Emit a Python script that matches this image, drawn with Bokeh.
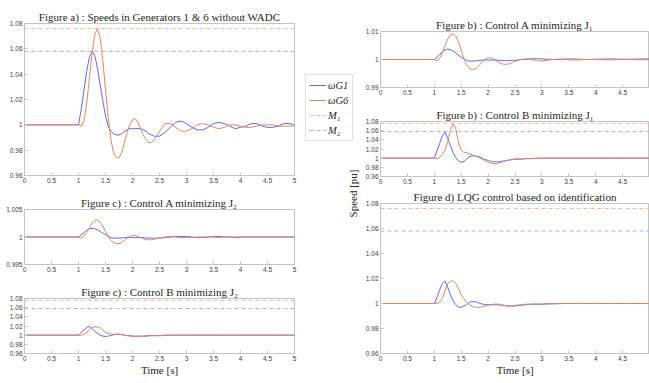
from bokeh.plotting import figure
from bokeh.layouts import row, column
from bokeh.models import (Range1d, FixedTicker, CustomJSTickFormatter, Legend,
                          LegendItem, Label)
from bokeh.embed import file_html
from bokeh.resources import INLINE

# ---------------- data ----------------
t = [0.0, 1.0, 1.05, 1.1, 1.15, 1.2, 1.25, 1.3, 1.35, 1.4, 1.45, 1.5, 1.55, 1.6,
     1.65, 1.7, 1.75, 1.8, 1.85, 1.9, 1.95, 2.0, 2.05, 2.1, 2.15, 2.2, 2.25, 2.3,
     2.35, 2.4, 2.45, 2.5, 2.6, 2.7, 2.8, 2.9, 3.0, 3.1, 3.2, 3.3, 3.4, 3.5, 3.6,
     3.7, 3.8, 3.9, 4.0, 4.1, 4.2, 4.3, 4.4, 4.5, 4.6, 4.7, 4.8, 4.9, 5.0]

M1 = 1.076
M2 = 1.058

# Figure a) : without WADC
a_g1 = [1.000, 1.000, 1.012, 1.027, 1.042, 1.053, 1.058, 1.055, 1.045, 1.032, 1.019,
        1.007, 0.999, 0.995, 0.993, 0.992, 0.992, 0.993, 0.995, 0.996, 0.997, 0.997,
        0.997, 0.997, 0.997, 0.996, 0.995, 0.993, 0.992, 0.991, 0.991, 0.991, 0.994,
        0.998, 1.002, 1.003, 1.001, 0.998, 0.996, 0.996, 0.998, 1.001, 1.002, 1.001,
        0.999, 0.997, 0.998, 0.999, 1.001, 1.001, 0.999, 0.998, 0.998, 0.999, 1.001,
        1.001, 1.000]
a_g6 = [1.000, 1.000, 0.999, 1.003, 1.016, 1.036, 1.056, 1.071, 1.076, 1.069, 1.051,
        1.028, 1.006, 0.988, 0.978, 0.974, 0.974, 0.978, 0.986, 0.994, 1.000, 1.004,
        1.005, 1.002, 0.997, 0.992, 0.988, 0.986, 0.986, 0.988, 0.991, 0.995, 1.001,
        1.001, 0.998, 0.995, 0.995, 0.997, 1.000, 1.001, 1.000, 0.998, 0.997, 0.998,
        1.000, 1.000, 0.999, 0.998, 0.998, 0.999, 1.000, 1.000, 1.000, 0.999, 0.999,
        0.999, 0.999]

# Figure b) : Control A minimizing J1
b1_g1 = [1.0, 1.0, 1.0008, 1.0018, 1.0027, 1.0034, 1.0037, 1.0035, 1.003, 1.0023,
         1.0015, 1.0008, 1.0002, 0.9997, 0.9994, 0.9994, 0.9995, 0.9996, 0.9997,
         0.9998, 0.9998, 0.9998, 0.9998, 0.9998, 0.9998, 0.9997, 0.9997, 0.9996,
         0.9996, 0.9996, 0.9997, 0.9997, 0.9999, 1.0001, 1.0002, 1.0003, 1.0002,
         1.0001, 1.0, 1.0, 1.0001, 1.0002, 1.0002, 1.0001, 1.0, 1.0, 1.0001, 1.0001,
         1.0002, 1.0002, 1.0001, 1.0001, 1.0001, 1.0001, 1.0002, 1.0002, 1.0002]
b1_g6 = [1.0, 1.0, 0.9995, 1.0005, 1.0025, 1.005, 1.0073, 1.0088, 1.0092, 1.0083,
         1.0062, 1.0033, 1.0004, 0.9981, 0.9968, 0.9965, 0.9966, 0.9972, 0.9982,
         0.9993, 1.0002, 1.0006, 1.0006, 1.0002, 0.9996, 0.999, 0.9985, 0.9983,
         0.9983, 0.9985, 0.9989, 0.9993, 1.0, 1.0002, 1.0, 0.9996, 0.9995, 0.9997,
         1.0, 1.0001, 1.0001, 0.9999, 0.9998, 0.9999, 1.0, 1.0, 1.0, 0.9999, 0.9999,
         0.9999, 1.0, 1.0, 1.0, 0.9999, 0.9999, 0.9999, 0.9999]

# Figure b) : Control B minimizing J1
b2_g1 = [1.0, 1.0, 1.016, 1.032, 1.049, 1.057, 1.043, 1.027, 1.012, 1.001, 0.994,
         0.991, 0.993, 0.998, 1.003, 1.005, 1.005, 1.004, 1.002, 0.999, 0.997, 0.995,
         0.993, 0.992, 0.992, 0.992, 0.993, 0.994, 0.995, 0.996, 0.997, 0.998, 0.998,
         0.999, 0.999, 1.0, 1.0, 1.0, 1.0, 1.0, 1.0, 1.0, 1.0, 1.0, 1.0, 1.0, 1.0,
         1.0, 1.0, 1.0, 1.0, 1.0, 1.0, 1.0, 1.0, 1.0, 1.0]
b2_g6 = [1.0, 1.0, 0.999, 1.002, 1.008, 1.018, 1.036, 1.062, 1.076, 1.064, 1.034,
         1.017, 1.013, 1.012, 1.010, 1.007, 1.005, 1.003, 1.000, 0.997, 0.994, 0.991,
         0.989, 0.988, 0.988, 0.989, 0.991, 0.993, 0.995, 0.996, 0.997, 0.998, 0.998,
         0.999, 0.999, 0.999, 1.0, 1.0, 1.0, 1.0, 1.0, 1.0, 1.0, 1.0, 1.0, 1.0, 1.0,
         1.0, 1.0, 1.0, 1.0, 1.0, 1.0, 1.0, 1.0, 1.0, 1.0]

# Figure c) : Control A minimizing J2
c1_g1 = [1.0, 1.0, 1.0004, 1.0008, 1.0012, 1.0015, 1.0016, 1.0015, 1.0013, 1.001,
         1.0007, 1.0004, 1.0001, 0.9999, 0.9998, 0.9998, 0.9998, 0.9998, 0.9999,
         0.9999, 0.9999, 0.9999, 0.9999, 0.9999, 0.9999, 0.9999, 0.9998, 0.9998,
         0.9998, 0.9998, 0.9998, 0.9998, 0.9999, 1.0, 1.0001, 1.0001, 1.0001, 1.0,
         0.9999, 0.9999, 1.0, 1.0001, 1.0001, 1.0, 1.0, 0.9999, 1.0, 1.0, 1.0, 1.0,
         1.0, 1.0, 1.0, 1.0, 1.0, 1.0, 1.0]
c1_g6 = [1.0, 1.0, 0.9998, 1.0001, 1.0008, 1.0016, 1.0025, 1.003, 1.0031, 1.0027,
         1.002, 1.001, 1.0001, 0.9994, 0.999, 0.9988, 0.9988, 0.999, 0.9994, 0.9998,
         1.0001, 1.0003, 1.0003, 1.0001, 0.9999, 0.9997, 0.9995, 0.9995, 0.9995,
         0.9996, 0.9997, 0.9998, 1.0, 1.0001, 1.0, 0.9999, 0.9999, 0.9999, 1.0, 1.0,
         1.0, 1.0, 0.9999, 1.0, 1.0, 1.0, 1.0, 1.0, 1.0, 1.0, 1.0, 1.0, 1.0, 1.0,
         1.0, 1.0, 1.0]

# Figure c) : Control B minimizing J2
c2_g1 = [1.0, 1.0, 1.006, 1.011, 1.017, 1.019, 1.014, 1.009, 1.004, 1.0, 0.998,
         0.997, 0.998, 0.999, 1.001, 1.002, 1.002, 1.001, 1.0, 0.999, 0.999, 0.998,
         0.998, 0.998, 0.998, 0.998, 0.998, 0.999, 0.999, 0.999, 0.999, 0.999, 1.0,
         1.0, 1.0, 1.0, 1.0, 1.0, 1.0, 1.0, 1.0, 1.0, 1.0, 1.0, 1.0, 1.0, 1.0, 1.0,
         1.0, 1.0, 1.0, 1.0, 1.0, 1.0, 1.0, 1.0, 1.0]
c2_g6 = [1.0, 1.0, 1.0, 1.002, 1.006, 1.011, 1.016, 1.018, 1.018, 1.016, 1.011,
         1.006, 1.004, 1.003, 1.002, 1.002, 1.002, 1.001, 1.0, 0.999, 0.998, 0.998,
         0.997, 0.997, 0.997, 0.998, 0.998, 0.998, 0.999, 0.999, 0.999, 0.999, 0.999,
         1.0, 1.0, 1.0, 1.0, 1.0, 1.0, 1.0, 1.0, 1.0, 1.0, 1.0, 1.0, 1.0, 1.0, 1.0,
         1.0, 1.0, 1.0, 1.0, 1.0, 1.0, 1.0, 1.0, 1.0]

# Figure d) LQG control based on identification
d_g1 = [1.0, 1.0, 1.005, 1.011, 1.016, 1.018, 1.013, 1.007, 1.002, 0.999, 0.997,
        0.997, 0.998, 0.999, 1.001, 1.0015, 1.0015, 1.001, 1.0, 0.9995, 0.999, 0.999,
        0.999, 0.999, 0.999, 0.999, 0.9985, 0.9985, 0.998, 0.998, 0.998, 0.998,
        0.9985, 0.999, 0.9995, 0.9995, 0.9995, 0.9997, 0.9998, 0.9999, 1.0, 1.0,
        1.0, 1.0, 1.0, 1.0, 1.0, 1.0, 1.0, 1.0, 1.0, 1.0, 1.0, 1.0, 1.0, 1.0, 1.0]
d_g6 = [1.0, 1.0, 1.0, 1.001, 1.004, 1.01, 1.016, 1.018, 1.018, 1.016, 1.012, 1.007,
        1.004, 1.001, 0.999, 0.998, 0.997, 0.997, 0.997, 0.9975, 0.998, 0.9985,
        0.999, 0.9995, 0.9995, 0.9995, 0.999, 0.9985, 0.998, 0.998, 0.998, 0.9985,
        0.999, 0.9995, 0.9995, 0.9995, 0.9995, 0.9997, 0.9998, 0.9999, 1.0, 1.0,
        1.0, 1.0, 1.0, 1.0, 1.0, 1.0, 1.0, 1.0, 1.0, 1.0, 1.0, 1.0, 1.0, 1.0, 1.0]

legend_labels = ["ωG1", "ωG6", "M₁", "M₂"]
x_ticks_left = [0, 0.5, 1, 1.5, 2, 2.5, 3, 3.5, 4, 4.5, 5]
x_ticks_right = [0, 0.5, 1, 1.5, 2, 2.5, 3, 3.5, 4, 4.5]
y_ticks_wide = [0.96, 0.98, 1.0, 1.02, 1.04, 1.06, 1.08]
y_ticks_b = [0.99, 1.0, 1.01]
y_ticks_c = [0.995, 1.0, 1.005]

# ---------------- style ----------------
BLUE = "#5070f4"
ORANGE = "#e8845e"
BLUE_D = "#a3b3f6"
ORANGE_D = "#f3b8a0"
FRAME = "#c4c4c4"
TEXT = "#262626"
SERIF = "Liberation Serif"
SANS = "Liberation Sans"

fmt_code = "return String(Number(tick.toFixed(4)));"


def panel(title, width, height, mbl, mbr, mbt, mbb, yr, yticks, xticks,
          xlabel=None):
    p = figure(width=width, height=height, output_backend="svg",
               toolbar_location=None, x_range=Range1d(0, 5),
               y_range=Range1d(yr[0], yr[1]),
               min_border_left=mbl, min_border_right=mbr,
               min_border_top=mbt, min_border_bottom=mbb)
    p.title.text = title
    p.title.align = "center"
    p.title.text_font = SERIF
    p.title.text_font_size = "11px"
    p.title.text_font_style = "normal"
    p.title.text_color = TEXT
    p.title.standoff = 1
    p.grid.visible = False
    p.outline_line_color = FRAME
    p.background_fill_color = "white"
    for ax in (p.xaxis[0], p.yaxis[0]):
        ax.axis_line_color = FRAME
        ax.major_tick_line_color = FRAME
        ax.major_tick_in = 3
        ax.major_tick_out = 0
        ax.minor_tick_line_color = None
        ax.major_label_text_font = SANS
        ax.major_label_text_font_size = "6.5px"
        ax.major_label_text_color = "#404040"
        ax.major_label_standoff = 2
        ax.formatter = CustomJSTickFormatter(code=fmt_code)
    p.xaxis[0].ticker = FixedTicker(ticks=xticks)
    p.yaxis[0].ticker = FixedTicker(ticks=yticks)
    if xlabel:
        p.xaxis[0].axis_label = xlabel
        p.xaxis[0].axis_label_text_font = SERIF
        p.xaxis[0].axis_label_text_font_style = "normal"
        p.xaxis[0].axis_label_text_font_size = "11px"
        p.xaxis[0].axis_label_text_color = TEXT
        p.xaxis[0].axis_label_standoff = 0
    return p


def curves(p, g1, g6, limits):
    r1 = p.line(t, g1, line_color=BLUE, line_width=1)
    r6 = p.line(t, g6, line_color=ORANGE, line_width=1)
    rm1 = rm2 = None
    if limits:
        rm1 = p.line([t[0], t[-1]], [M1, M1], line_color=ORANGE_D,
                     line_width=1, line_dash="4 3")
        rm2 = p.line([t[0], t[-1]], [M2, M2], line_color=BLUE_D,
                     line_width=1, line_dash="4 3")
    return r1, r6, rm1, rm2


# ---------------- left column ----------------
pa = panel("Figure a) : Speeds in Generators 1 & 6 without WADC", 300, 190,
           24, 6, 23, 15, (0.96, 1.08), y_ticks_wide, x_ticks_left)
curves(pa, a_g1, a_g6, True)

pc1 = panel("Figure c) : Control A minimizing J₂", 300, 91,
            24, 6, 19, 17, (0.995, 1.005), y_ticks_c, x_ticks_left)
curves(pc1, c1_g1, c1_g6, False)

pc2 = panel("Figure c) : Control B minimizing J₂", 300, 102,
            24, 6, 17, 30, (0.96, 1.08), y_ticks_wide, x_ticks_left,
            xlabel="Time [s]")
curves(pc2, c2_g1, c2_g6, True)

left = column(pa, pc1, pc2, spacing=0)

# ---------------- middle: legend + shared y label ----------------
# the legend's lines are the Figure a) series, in a view whose y window
# lies away from the data so only the legend shows them
pm = figure(width=62, height=383, output_backend="svg", toolbar_location=None,
            x_axis_location=None, y_axis_location=None, min_border=0,
            x_range=Range1d(0, 5), y_range=Range1d(2, 3))
pm.outline_line_color = None
pm.grid.visible = False
lg = curves(pm, a_g1, a_g6, True)
legend = Legend(items=[LegendItem(label=lab, renderers=[r])
                       for lab, r in zip(legend_labels, lg)],
                location=(5, 242))
legend.label_text_font = SERIF
legend.label_text_font_style = "italic"
legend.label_text_font_size = "10.5px"
legend.label_text_color = TEXT
legend.glyph_width = 17
legend.glyph_height = 14
legend.label_height = 14
legend.label_width = 21
legend.label_standoff = 2
legend.padding = 3
legend.spacing = 1
legend.margin = 0
legend.border_line_color = FRAME
legend.background_fill_color = "white"
legend.background_fill_alpha = 1.0
pm.add_layout(legend)
pm.add_layout(Label(x=52, y=190, x_units="screen", y_units="screen",
                    text="Speed [pu]", angle=90, angle_units="deg",
                    text_align="center", text_baseline="middle",
                    text_font=SERIF, text_font_size="11px",
                    text_color=TEXT))

# ---------------- right column ----------------
pb1 = panel("Figure b) : Control A minimizing J₁", 287, 104,
            17, 0, 31, 17, (0.99, 1.01), y_ticks_b, x_ticks_right)
curves(pb1, b1_g1, b1_g6, False)

pb2 = panel("Figure b) : Control B minimizing J₁", 287, 82,
            17, 0, 17, 10, (0.96, 1.08), y_ticks_wide, x_ticks_right)
curves(pb2, b2_g1, b2_g6, True)

pd = panel("Figure d) LQG control based on identification", 287, 197,
           17, 0, 17, 30, (0.96, 1.08), y_ticks_wide, x_ticks_right,
           xlabel="Time [s]")
curves(pd, d_g1, d_g6, True)

right = column(pb1, pb2, pd, spacing=0)

layout = row(left, pm, right, spacing=0)

open("out.html", "w").write(file_html(layout, INLINE))
